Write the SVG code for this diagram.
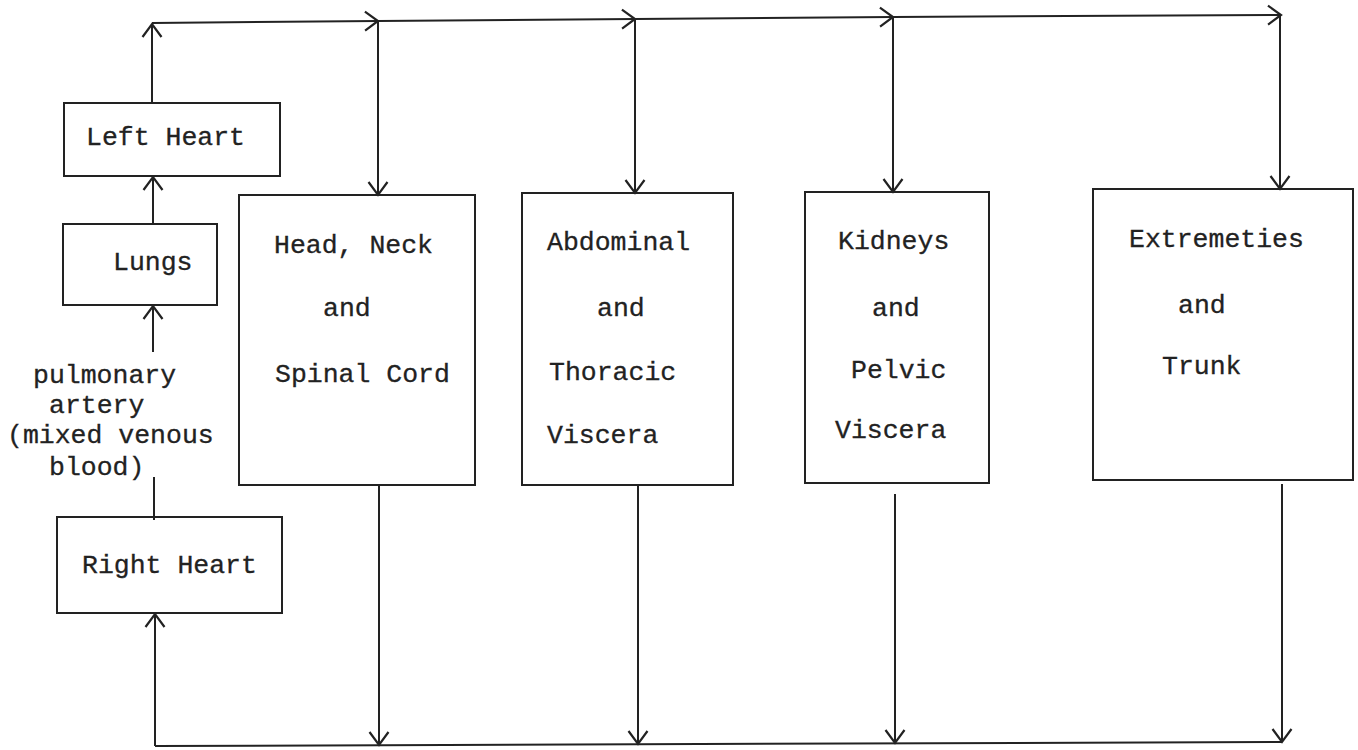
<svg xmlns="http://www.w3.org/2000/svg" width="1358" height="750" viewBox="0 0 1358 750">
<style>
.box{fill:none;stroke:#222;stroke-width:2}
.ln{fill:none;stroke:#222;stroke-width:2}
.t{font-family:"Liberation Mono","Courier New",monospace;font-size:26.5px;fill:#222;stroke:#222;stroke-width:0.3}
</style>
<defs>
<marker id="ah" markerUnits="userSpaceOnUse" markerWidth="20" markerHeight="22" refX="15" refY="11" orient="auto">
<path d="M2,1.5 L15,11 L2,20.5" fill="none" stroke="#222" stroke-width="2.2"/>
</marker>
</defs>
<rect width="1358" height="750" fill="#fff"/>
<g id="connectors">
<line class="ln" x1="152" y1="103" x2="152" y2="24" marker-end="url(#ah)"/>
<line class="ln" x1="152" y1="23" x2="378" y2="21" marker-end="url(#ah)"/>
<line class="ln" x1="378" y1="21" x2="635" y2="19" marker-end="url(#ah)"/>
<line class="ln" x1="635" y1="19" x2="893" y2="17" marker-end="url(#ah)"/>
<line class="ln" x1="893" y1="17" x2="1281" y2="15" marker-end="url(#ah)"/>
<line class="ln" x1="378" y1="21" x2="378" y2="195" marker-end="url(#ah)"/>
<line class="ln" x1="635" y1="19" x2="635" y2="193" marker-end="url(#ah)"/>
<line class="ln" x1="893" y1="17" x2="893" y2="192" marker-end="url(#ah)"/>
<line class="ln" x1="1280" y1="15" x2="1280" y2="189" marker-end="url(#ah)"/>
<line class="ln" x1="153" y1="224" x2="153" y2="177" marker-end="url(#ah)"/>
<line class="ln" x1="153" y1="352" x2="153" y2="306" marker-end="url(#ah)"/>
<line class="ln" x1="154" y1="477" x2="154" y2="520"/>
<line class="ln" x1="155" y1="746" x2="155" y2="614" marker-end="url(#ah)"/>
<line class="ln" x1="155" y1="746" x2="1282" y2="742"/>
<line class="ln" x1="379" y1="485" x2="379" y2="745" marker-end="url(#ah)"/>
<line class="ln" x1="638" y1="485" x2="638" y2="744" marker-end="url(#ah)"/>
<line class="ln" x1="895" y1="494" x2="895" y2="743" marker-end="url(#ah)"/>
<line class="ln" x1="1282" y1="484" x2="1282" y2="742" marker-end="url(#ah)"/>
</g>
<g id="left-heart">
<rect class="box" x="64" y="103" width="216" height="73"/>
<text class="t" x="86" y="145">Left Heart</text>
</g>
<g id="lungs">
<rect class="box" x="63" y="224" width="154" height="81"/>
<text class="t" x="113" y="270">Lungs</text>
</g>
<g id="pulmonary-artery">
<text class="t" x="33" y="383">pulmonary</text>
<text class="t" x="49" y="413">artery</text>
<text class="t" x="7" y="443">(mixed venous</text>
<text class="t" x="49" y="475">blood)</text>
</g>
<g id="right-heart">
<rect class="box" x="57" y="517" width="225" height="96"/>
<text class="t" x="82" y="573">Right Heart</text>
</g>
<g id="head-neck">
<rect class="box" x="239" y="195" width="236" height="290"/>
<text class="t" x="274" y="253">Head, Neck</text>
<text class="t" x="323" y="316">and</text>
<text class="t" x="275" y="382">Spinal Cord</text>
</g>
<g id="abdominal">
<rect class="box" x="522" y="193" width="211" height="292"/>
<text class="t" x="547" y="250">Abdominal</text>
<text class="t" x="597" y="316">and</text>
<text class="t" x="549" y="380">Thoracic</text>
<text class="t" x="547" y="443">Viscera</text>
</g>
<g id="kidneys">
<rect class="box" x="805" y="192" width="184" height="291"/>
<text class="t" x="838" y="249">Kidneys</text>
<text class="t" x="872" y="316">and</text>
<text class="t" x="851" y="378">Pelvic</text>
<text class="t" x="835" y="438">Viscera</text>
</g>
<g id="extremeties">
<rect class="box" x="1093" y="189" width="260" height="291"/>
<text class="t" x="1129" y="247">Extremeties</text>
<text class="t" x="1178" y="313">and</text>
<text class="t" x="1162" y="374">Trunk</text>
</g>
</svg>
